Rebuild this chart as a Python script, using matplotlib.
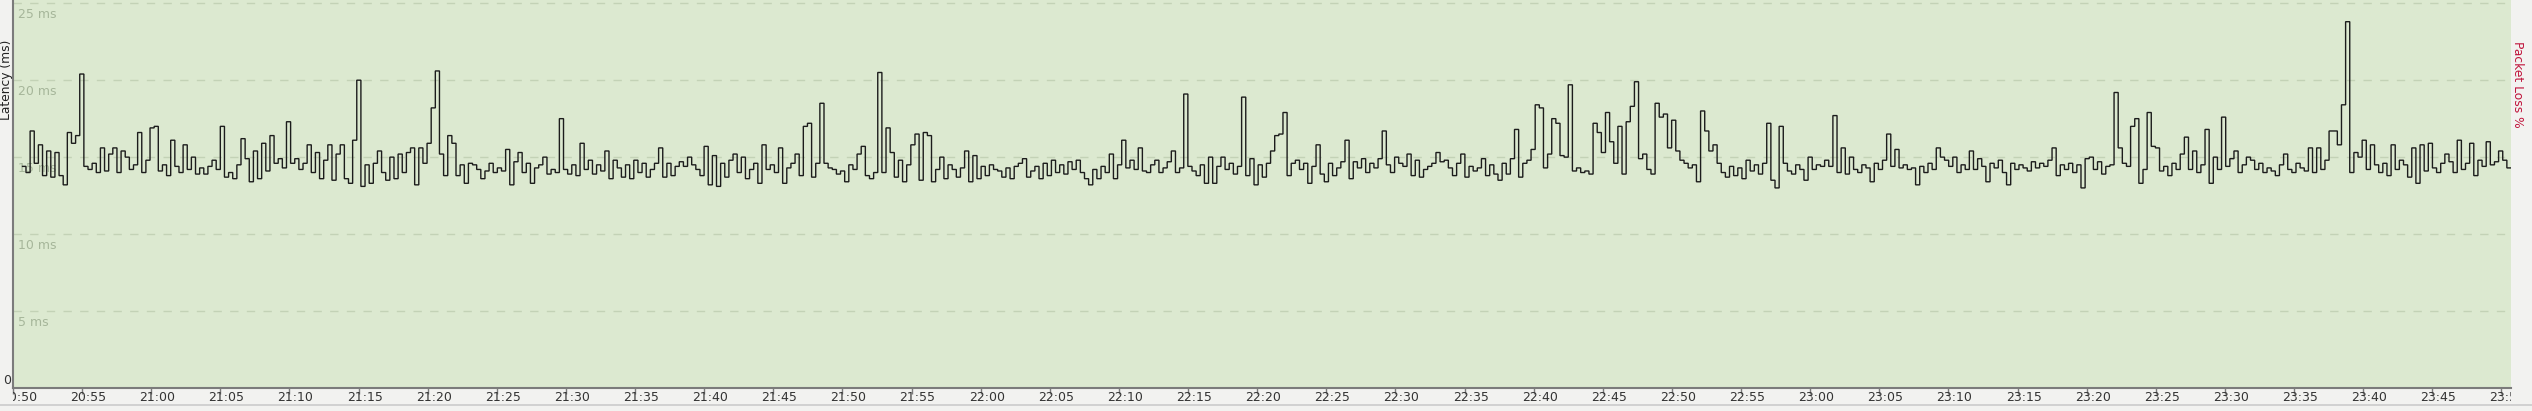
import numpy as np
import matplotlib
matplotlib.use("Agg")
import matplotlib.pyplot as plt
from matplotlib.lines import Line2D
from matplotlib.transforms import Bbox, TransformedBbox, ScaledTranslation

# median latency (ms) in seven chunks of ~25 min each
lat_a = [14.4, 14.0, 16.7, 14.6, 15.8, 13.8, 15.4, 13.7, 15.3, 13.8, 13.2, 16.6, 15.9, 16.4, 20.4, 14.4,
         14.2, 14.6, 14.0, 15.6, 14.1, 15.2, 15.6, 14.0, 15.4, 15.0, 14.2, 14.5, 16.6, 14.0, 14.8, 16.9,
         17.0, 14.1, 14.5, 13.8, 16.1, 14.4, 14.0, 15.8, 14.2, 15.0, 13.9, 14.3, 13.9, 14.4, 14.8, 14.2,
         17.0, 13.7, 14.0, 13.6, 14.5, 16.2, 14.9, 13.4, 15.4, 13.6, 15.9, 14.1, 16.4, 14.6, 14.9, 14.3,
         17.3, 14.6, 14.9, 14.2, 14.6, 15.8, 14.0, 15.3, 13.6, 14.8, 15.8, 13.5, 15.2, 15.8, 13.6, 13.3,
         16.1, 20.0, 13.1, 14.5, 13.3, 14.6]
lat_b = [15.4, 14.0, 13.5, 15.0, 13.6, 15.2, 14.0, 15.3, 15.6, 13.2, 15.6, 14.6, 15.9, 18.2, 20.6, 15.2,
         13.8, 16.4, 15.9, 13.8, 14.5, 13.3, 14.6, 14.5, 14.2, 13.6, 14.1, 14.6, 14.0, 14.3, 14.1, 15.5,
         13.2, 14.7, 15.3, 14.0, 14.6, 13.3, 14.3, 14.5, 15.0, 13.9, 14.2, 14.0, 17.5, 14.2, 13.9, 14.5,
         13.8, 15.9, 14.2, 14.8, 13.9, 14.5, 14.1, 15.4, 13.6, 14.8, 14.3, 13.7, 14.5, 13.6, 14.8, 14.0,
         14.6, 13.7, 14.2, 14.6, 15.6, 13.7, 14.6, 13.8, 14.4, 14.7, 14.4, 15.0, 14.5, 14.2, 13.8, 15.7,
         13.2, 15.1, 13.1, 14.6, 13.7, 14.8]
lat_c = [15.2, 14.0, 15.0, 13.6, 14.2, 14.6, 13.3, 15.8, 14.2, 14.5, 14.0, 15.6, 13.3, 14.3, 14.6, 15.2,
         13.8, 17.0, 17.2, 13.7, 14.6, 18.5, 14.6, 14.3, 14.2, 13.9, 14.1, 13.4, 14.5, 14.2, 15.2, 15.7,
         13.8, 13.6, 14.0, 20.5, 14.0, 16.9, 15.3, 13.7, 14.8, 13.4, 14.5, 15.8, 16.5, 13.5, 16.6, 16.4,
         13.4, 14.2, 15.0, 13.6, 14.5, 14.2, 13.7, 14.3, 15.4, 13.4, 15.1, 13.6, 14.4, 13.8, 14.5, 14.2,
         14.1, 13.7, 14.3, 13.6, 14.4, 14.6, 14.9, 13.7, 14.1, 14.4, 13.6, 14.6, 13.8, 14.8, 14.0, 14.5,
         13.9, 14.7, 14.2, 14.8, 14.0, 13.6]
lat_d = [13.2, 14.2, 13.6, 14.4, 14.0, 15.2, 13.6, 14.5, 16.1, 14.3, 14.8, 14.2, 15.6, 14.1, 14.0, 14.5,
         14.8, 14.0, 14.3, 14.7, 15.4, 14.0, 14.3, 19.1, 14.4, 14.1, 13.8, 14.5, 13.3, 15.0, 13.3, 14.4,
         15.0, 14.2, 14.6, 13.9, 14.4, 18.9, 13.8, 14.9, 13.2, 14.5, 13.7, 14.6, 15.4, 16.4, 16.5, 17.9,
         13.8, 14.6, 14.8, 14.2, 14.6, 13.3, 14.4, 15.8, 13.9, 13.4, 14.6, 13.8, 14.3, 14.7, 16.1, 13.6,
         14.7, 14.3, 14.9, 14.0, 14.6, 14.3, 14.9, 16.7, 14.5, 14.0, 15.0, 14.6, 14.4, 15.2, 13.8, 14.8,
         13.7, 14.2, 14.4, 14.6, 15.3, 14.7]
lat_e = [14.8, 14.3, 13.8, 14.6, 15.2, 13.7, 14.4, 14.1, 14.3, 14.9, 13.8, 14.5, 13.9, 13.5, 14.6, 13.9,
         14.9, 16.8, 13.7, 14.6, 14.8, 15.5, 18.4, 18.2, 14.3, 15.2, 17.5, 17.2, 15.1, 15.0, 19.7, 14.1,
         14.3, 14.0, 14.1, 13.9, 17.2, 16.6, 15.3, 17.9, 16.0, 14.6, 17.0, 13.9, 17.3, 18.3, 19.9, 14.9,
         15.2, 14.2, 13.9, 18.5, 17.6, 17.8, 15.6, 17.4, 15.4, 14.8, 14.6, 14.3, 14.5, 13.4, 18.0, 16.7,
         15.4, 15.8, 14.6, 14.0, 13.7, 14.4, 13.8, 14.3, 13.6, 14.8, 14.1, 14.5, 13.9, 14.6, 17.2, 13.5,
         13.0, 17.0, 14.6, 14.1, 13.9, 14.5]
lat_f = [14.2, 13.5, 15.0, 14.2, 14.5, 14.4, 14.8, 14.4, 17.7, 14.0, 15.6, 13.9, 15.0, 14.2, 14.0, 14.5,
         14.3, 13.4, 14.6, 14.2, 14.8, 16.5, 14.4, 15.5, 14.3, 14.5, 14.2, 14.3, 13.2, 14.4, 14.0, 14.6,
         14.2, 15.6, 15.0, 14.8, 14.4, 15.0, 14.0, 14.5, 14.2, 15.4, 14.2, 14.9, 14.4, 13.4, 14.6, 14.3,
         14.8, 14.0, 13.2, 14.6, 14.2, 14.5, 14.3, 14.1, 14.7, 14.3, 14.6, 14.4, 14.8, 15.6, 13.8, 14.5,
         14.2, 14.6, 14.0, 14.5, 13.0, 14.9, 15.0, 14.2, 14.7, 13.9, 14.4, 14.5, 19.2, 15.6, 14.6, 14.4,
         17.0, 17.5, 13.3, 14.2, 17.9, 15.7]
lat_g = [15.6, 14.1, 14.4, 13.8, 14.6, 14.2, 15.2, 16.3, 14.2, 15.4, 14.0, 14.5, 16.8, 13.3, 15.0, 14.2,
         17.6, 14.4, 14.9, 15.4, 14.0, 14.5, 15.0, 14.8, 14.2, 14.6, 14.0, 14.3, 14.1, 13.8, 14.5, 15.2,
         14.2, 14.0, 14.6, 14.3, 14.1, 15.6, 14.0, 15.6, 14.2, 14.8, 16.7, 16.7, 15.8, 18.4, 23.8, 14.0,
         15.3, 15.0, 16.1, 14.2, 15.8, 14.5, 14.0, 14.6, 13.8, 15.8, 14.2, 14.8, 14.5, 13.7, 15.6, 13.3,
         15.8, 14.1, 15.9, 14.3, 14.0, 14.6, 15.2, 14.7, 14.0, 16.1, 14.2, 14.6, 15.9, 13.8, 14.8, 14.4,
         16.0, 14.5, 14.7, 15.4, 14.8, 14.3]

latency = np.array(lat_a + lat_b + lat_c + lat_d + lat_e + lat_f + lat_g)

# time axis in minutes after 20:50
t_start, t_end = 0.64, 180.69
tick_minutes = list(range(0, 181, 5))
tick_labels = ["%d:%02d" % (20 + (50 + m) // 60, (50 + m) % 60) for m in tick_minutes]
y_grid = [5, 10, 15, 20, 25]
y_labels = ["5 ms", "10 ms", "15 ms", "20 ms", "25 ms"]

W, H = 2532, 411
fig = plt.figure(figsize=(W / 100, H / 100), dpi=100, facecolor='#f2f2f0')
ax = fig.add_axes([13 / W, 23 / H, (2511 - 13) / W, 388 / H])
ax.set_facecolor('#dce9d0')
ax.set_xlim(t_start, t_end)
ax.set_ylim(0, 25.21)

for v, lab in zip(y_grid, y_labels):
    ax.axhline(v, color='#c3d2b6', lw=1.0, linestyle=(0, (6, 6)), zorder=1)
    ax.text(0.002, v - 0.3, lab, transform=ax.get_yaxis_transform(), ha='left', va='top',
            fontsize=9, color='#a6b69a', zorder=2)

edges = np.linspace(t_start, t_end, len(latency) + 1)
ax.stairs(latency, edges, baseline=None, color='#1c1c1c', lw=1.0, zorder=3)

for s in ['top', 'right']:
    ax.spines[s].set_visible(False)
for s in ['left', 'bottom']:
    ax.spines[s].set_color('#7b7b7b')
    ax.spines[s].set_linewidth(1.5)

ax.set_yticks([])
ax.set_xticks(tick_minutes)
ax.tick_params(axis='x', direction='out', length=4, width=1, color='#7b7b7b', labelbottom=False)

clip = TransformedBbox(Bbox.from_extents(13 / W, 0, 2511 / W, 1), fig.transFigure)
off = ScaledTranslation(6 / 100, -3 / 100, fig.dpi_scale_trans)
for m, lab in zip(tick_minutes, tick_labels):
    t = ax.text(m, 0, lab, transform=ax.get_xaxis_transform() + off, ha='center', va='top',
                fontsize=9, color='#333333', clip_on=True)
    t.set_clip_box(clip)

fig.text(11 / W, 1 - 387 / H, "0", ha='right', va='bottom', fontsize=9, color='#333333')
fig.text(7 / W, 1 - 80 / H, "Latency (ms)", rotation=90, ha='center', va='center',
         fontsize=8.8, color='#222222')
fig.text(2517 / W, 1 - 84 / H, "Packet Loss %", rotation=270, ha='center', va='center',
         fontsize=8.8, color='#c0143c')

fig.add_artist(Line2D([0, 1], [1 - 405 / H] * 2, transform=fig.transFigure, color='#cbcbcb', lw=1.2))

fig.savefig('out.png', dpi=100, facecolor=fig.get_facecolor())
